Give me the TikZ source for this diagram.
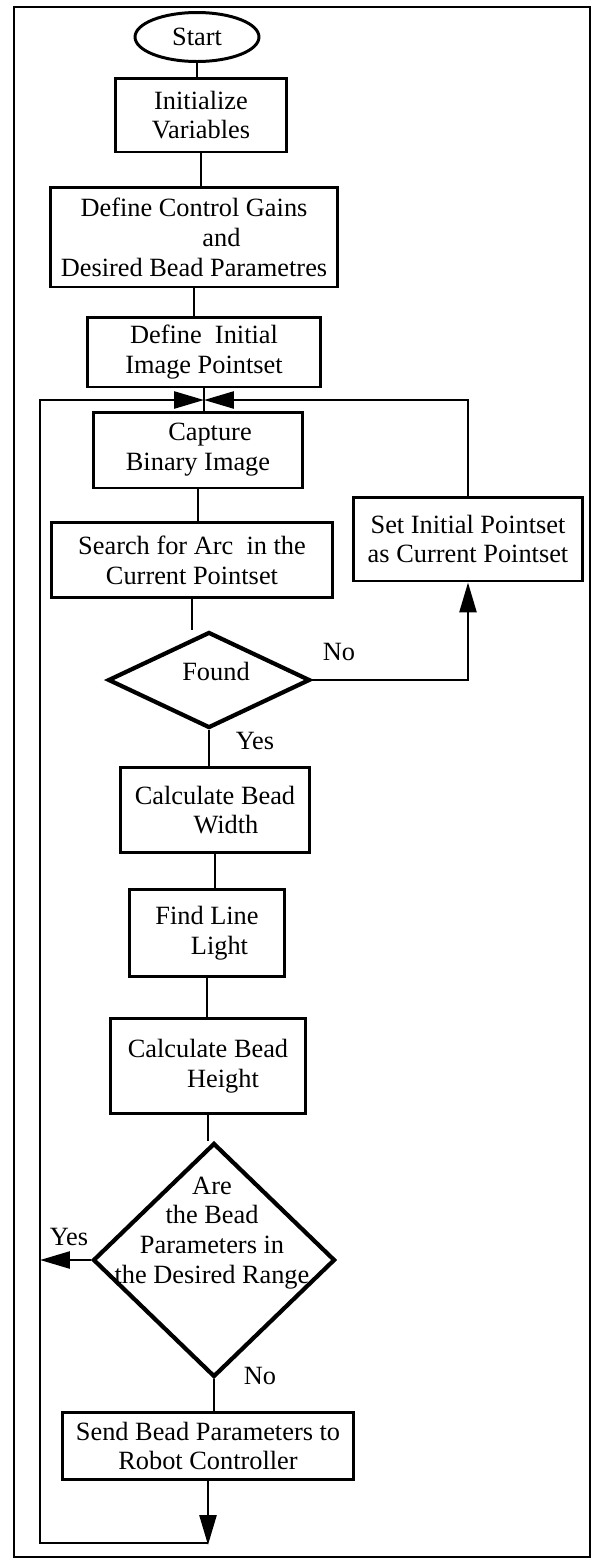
\documentclass[tikz,border=0pt]{standalone}
\usepackage{fontspec}
\setmainfont{Liberation Serif}
\usetikzlibrary{arrows.meta,positioning,shapes.geometric}
\tikzset{
  lepes/.style={draw,line width=1.7pt,align=center,inner sep=0pt},
  kezd/.style={ellipse,draw,line width=1.7pt,inner sep=0pt},
  dontes/.style={diamond,draw,line width=2.4pt,inner sep=0pt},
  szov/.style={align=center,inner sep=0pt},
  vonal/.style={line width=1.5pt},
  hegy/.style={line width=1.5pt,-{Triangle[length=0.6cm,width=0.34cm]}},
}

\begin{document}
\begin{tikzpicture}[x=0.02cm,y=-0.02cm,font=\fontsize{15}{17}\selectfont]
  \useasboundingbox (0,0) rectangle (593,1559);
  \draw[line width=1.6pt] (14,7) rectangle (590,1557);
  \node[kezd,minimum width=2.48cm,minimum height=0.98cm] (start) at (197,37) {Start};
  \node[lepes,minimum width=3.42cm,minimum height=1.48cm] (init) at (201,115) {Initialize\\Variables};
  \node[lepes,minimum width=5.76cm,minimum height=2.0cm] (gains) at (194,237) {Define Control Gains\\\hspace*{1.1cm}and\\Desired Bead Parametres};
  \node[lepes,minimum width=4.68cm,minimum height=1.4cm] (initps) at (204,352) {Define\ \ Initial\\Image Pointset};
  \node[lepes,minimum width=4.2cm,minimum height=1.52cm] (capt) at (198,450) {\hspace*{0.48cm}Capture\\Binary Image};
  \node[lepes,minimum width=5.64cm,minimum height=1.5cm] (search) at (192,560) {Search for Arc\ \ in the\\Current Pointset};
  \node[lepes,minimum width=4.58cm,minimum height=1.68cm] (setps) at (468,539) {Set Initial Pointset\\as Current Pointset};
  \node[dontes,minimum width=4.04cm,minimum height=1.92cm] (found) at (209,680) {};
  \node[szov] (foundtxt) at (216,671) {Found};
  \node[lepes,minimum width=3.78cm,minimum height=1.7cm] (width) at (215,810) {Calculate Bead\\\hspace*{0.44cm}Width};
  \node[lepes,minimum width=3.12cm,minimum height=1.74cm] (light) at (207,933) {Find Line\\\hspace*{0.5cm}Light};
  \node[lepes,minimum width=3.9cm,minimum height=1.9cm] (height) at (208,1066) {Calculate Bead\\\hspace*{0.6cm}Height};
  \node[dontes,minimum width=4.84cm,minimum height=4.68cm] (range) at (214,1260) {};
  \node[szov] (rangetxt) at (212,1233) {Are\\the Bead\\Parameters in\\the Desired Range};
  \node[lepes,minimum width=5.84cm,minimum height=1.34cm] (send) at (208,1446) {Send Bead Parameters to\\Robot Controller};

  \node[szov] (no1) at (339,652) {No};
  \node[szov] (yes1) at (255,741) {Yes};
  \node[szov] (yes2) at (69,1237) {Yes};
  \node[szov] (no2) at (260,1376) {No};

  \coordinate (jn) at (initps.south |- 0,400);
  \coordinate (lt) at (40,400);
  \coordinate (lb) at (40,1543);
  \coordinate (bot) at (send.south |- 0,1545);
  \coordinate (rt) at (setps.north |- jn);
  \coordinate (rb) at (setps.south |- found.east);

  \draw[vonal] (start.south) -- (start.south |- init.north);
  \draw[vonal] (init.south) -- (init.south |- gains.north);
  \draw[vonal] (gains.south) -- (gains.south |- initps.north);
  \draw[vonal] (initps.south) -- (initps.south |- capt.north);
  \draw[vonal] (capt.south) -- (capt.south |- search.north);
  \draw[vonal] (search.south) -- (search.south |- found.north);
  \draw[vonal] (found.south) -- (found.south |- width.north);
  \draw[vonal] (width.south) -- (width.south |- light.north);
  \draw[vonal] (light.south) -- (light.south |- height.north);
  \draw[vonal] (height.south) -- (height.south |- range.north);
  \draw[vonal] (range.south) -- (range.south |- send.north);
  \draw[hegy] (send.south) -- (bot);
  \draw[hegy] (bot |- lb) -- (lb) -- (lt) -- (jn);
  \draw[hegy] (setps.north) -- (rt) -- (jn);
  \draw[hegy] (found.east) -- (rb) -- (setps.south);
  \draw[hegy] (range.west) -- (range.west -| lt);
\end{tikzpicture}
\end{document}
